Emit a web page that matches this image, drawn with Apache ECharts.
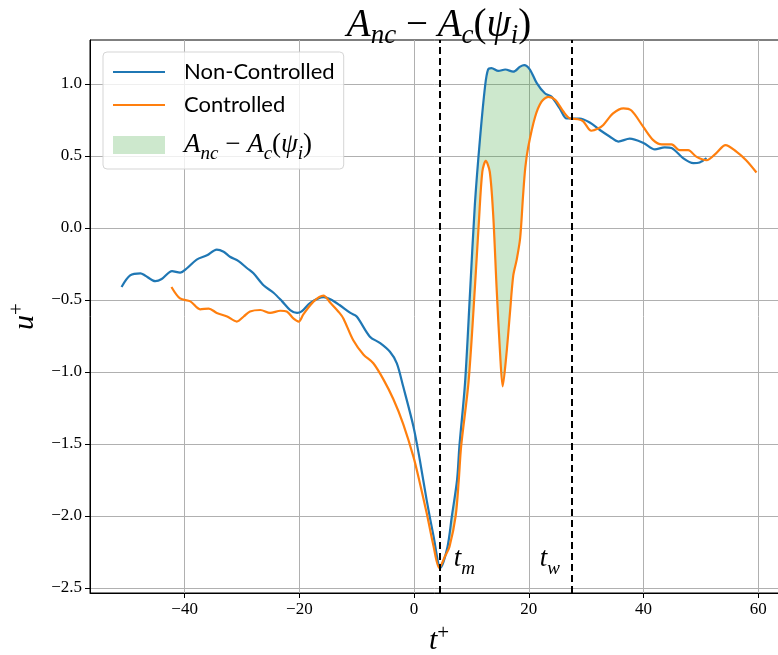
<!DOCTYPE html>
<html><head><meta charset="utf-8">
<script src="https://cdn.jsdelivr.net/npm/echarts@6/dist/echarts.min.js"></script>
<style>html,body{margin:0;padding:0;background:#fff}#c{width:778px;height:655px}</style>
</head><body><div id="c"></div>
<script>
// ---- data ----
const ncT = [-51.0,-49.5,-47.7,-46.9,-45.1,-44.0,-42.2,-40.8,-39.6,-37.9,-36.1,-34.4,-33.2,-32.1,-30.6,-29.1,-28.0,-26.2,-24.5,-23.0,-21.6,-20.4,-19.6,-18.1,-15.8,-14.6,-13.0,-11.1,-10.0,-7.7,-5.9,-4.2,-3.0,-1.9,-0.1,1.0,2.2,3.4,4.6,5.8,6.6,7.5,7.9,8.9,9.8,10.6,11.5,12.4,12.9,13.5,14.7,15.9,17.3,18.5,19.2,20.2,21.4,22.8,24.0,25.4,26.6,27.8,28.9,30.7,32.4,34.1,35.6,37.6,40.0,42.0,43.7,44.9,46.9,48.7,49.8,51.0];
const ncU = [-0.41,-0.33,-0.315,-0.33,-0.37,-0.355,-0.30,-0.31,-0.28,-0.22,-0.19,-0.15,-0.165,-0.20,-0.23,-0.28,-0.315,-0.40,-0.45,-0.51,-0.57,-0.59,-0.58,-0.52,-0.48,-0.495,-0.535,-0.59,-0.615,-0.755,-0.80,-0.86,-0.94,-1.10,-1.38,-1.61,-1.89,-2.14,-2.36,-2.22,-2.0,-1.75,-1.52,-1.07,-0.42,0.16,0.62,0.99,1.10,1.11,1.09,1.10,1.085,1.12,1.13,1.10,1.005,0.935,0.91,0.83,0.76,0.76,0.76,0.73,0.68,0.635,0.60,0.62,0.59,0.545,0.56,0.555,0.485,0.45,0.455,0.485];
const cT = [-42.3,-40.8,-39.0,-37.3,-35.8,-34.4,-32.6,-30.9,-29.7,-28.6,-26.8,-25.1,-23.3,-22.2,-21.0,-20.1,-19.3,-17.5,-15.8,-14.6,-13.0,-12.3,-10.6,-8.8,-7.1,-5.3,-3.6,-1.9,-0.1,1.0,2.2,3.4,4.4,5.4,6.2,7.26,7.8,8.2,9.5,10.6,11.3,11.9,12.5,13.2,13.8,14.4,15.0,15.45,16.1,16.7,17.3,17.9,18.5,19.0,19.4,19.9,21.1,22.2,23.4,24.6,26.0,27.2,28.6,29.5,30.9,32.1,33.0,34.7,36.5,37.9,40.0,41.7,43.2,44.9,46.3,47.8,49.2,51.0,52.7,54.3,56.2,57.9,59.7];
const cU = [-0.41,-0.49,-0.51,-0.565,-0.56,-0.59,-0.615,-0.65,-0.615,-0.58,-0.57,-0.59,-0.575,-0.58,-0.63,-0.65,-0.60,-0.51,-0.47,-0.52,-0.59,-0.63,-0.78,-0.88,-0.94,-1.055,-1.19,-1.36,-1.59,-1.77,-1.98,-2.21,-2.36,-2.28,-2.21,-2.0,-1.75,-1.52,-1.07,-0.42,0.04,0.39,0.465,0.39,0.09,-0.42,-0.87,-1.10,-0.88,-0.60,-0.33,-0.22,-0.07,0.22,0.42,0.56,0.77,0.875,0.91,0.89,0.81,0.76,0.755,0.74,0.675,0.69,0.715,0.795,0.83,0.815,0.70,0.61,0.58,0.58,0.54,0.54,0.495,0.47,0.52,0.575,0.53,0.47,0.385];
const tm = 4.5, tw = 27.5;
const xTicks = [-40,-20,0,20,40,60];
const yTicks = [-2.5,-2.0,-1.5,-1.0,-0.5,0.0,0.5,1.0];
const seriesNames = ['Non-Controlled','Controlled','fill'];

// ---- style ----
const BLUE='#1f77b4', ORANGE='#ff7f0e', FILL='rgba(44,160,44,0.24)';
const SERIF='"Liberation Serif", "DejaVu Serif", serif';
const MATH = '{i|A}{s|nc}{n| − }{i|A}{s|c}{n|(}{i|ψ}{s|i}{n|)}';
function mathRich(size, L, subLH, supLH){
  const s = Math.round(size*0.7);
  return {
    i:{fontFamily:SERIF,fontStyle:'italic',fontSize:size,lineHeight:L,verticalAlign:'middle',color:'#000'},
    n:{fontFamily:SERIF,fontSize:size,lineHeight:L,verticalAlign:'middle',color:'#000'},
    s:{fontFamily:SERIF,fontStyle:'italic',fontSize:s,lineHeight:subLH,verticalAlign:'bottom',color:'#000'},
    sup:{fontFamily:SERIF,fontSize:s,lineHeight:supLH,verticalAlign:'top',color:'#000'}
  };
}
const minus = v => String(v).replace('-', '\u2212');

const chart = echarts.init(document.getElementById('c'), null, {renderer:'canvas'});
const nc = ncT.map((t,i)=>[t,ncU[i]]);
const c = cT.map((t,i)=>[t,cU[i]]);

chart.setOption({
  animation:false,
  backgroundColor:'#fff',
  grid:{left:90, top:40, right:-10, bottom:62, outerBoundsMode:'none', containLabel:false,
        show:true, borderColor:'#000', borderWidth:1, backgroundColor:'transparent'},
  xAxis:{
    type:'value', min:-56.5, max:65.2, splitNumber:6,
    name:'{i|t}{sup|+}', nameLocation:'middle', nameGap:21,
    nameTextStyle:{rich:mathRich(30,36,24,12)},
    axisLine:{show:true,onZero:false,lineStyle:{color:'#000',width:1}},
    axisTick:{show:true,length:5,lineStyle:{color:'#000'},customValues:xTicks},
    axisLabel:{show:true,margin:8,fontFamily:SERIF,fontSize:17,color:'#000',
      customValues:xTicks,
      formatter:v=>minus(Math.round(v))},
    splitLine:{show:true,lineStyle:{color:'#b0b0b0',width:1}}
  },
  yAxis:{
    type:'value', min:-2.535, max:1.305, splitNumber:8,
    name:'{i|u}{sup|+}', nameLocation:'middle', nameGap:36, nameRotate:90,
    nameTextStyle:{rich:mathRich(30,36,24,12)},
    axisLine:{show:true,onZero:false,lineStyle:{color:'#000',width:1}},
    axisTick:{show:true,length:5,lineStyle:{color:'#000'},customValues:yTicks},
    axisLabel:{show:true,margin:8,fontFamily:SERIF,fontSize:17,color:'#000',
      customValues:yTicks,
      formatter:v=>minus(Number(v).toFixed(1))},
    splitLine:{show:true,lineStyle:{color:'#b0b0b0',width:1}}
  },
  legend:{
    orient:'vertical', left:103, top:52,
    data:[{name:seriesNames[0],itemStyle:{opacity:0}},{name:seriesNames[1],itemStyle:{opacity:0}},{name:seriesNames[2],icon:'rect'}],
    itemWidth:52, itemHeight:18, itemGap:11,
    padding:[9,9,6,9],
    backgroundColor:'rgba(255,255,255,0.8)', borderColor:'#d5d5d5', borderWidth:1, borderRadius:4,
    textStyle:{fontFamily:'Lato', fontSize:22, lineHeight:18, color:'#000', padding:[0,0,0,14], rich:mathRich(27,36,12,12)},
    formatter:n => n==='fill' ? MATH : n
  },
  series:[
    {type:'custom', name:seriesNames[2], coordinateSystem:'cartesian2d', z:1, silent:true,
     itemStyle:{color:FILL},
     data:[[tm,0]], encode:{x:0,y:1},
     renderItem:(params, api) => {
       const pts=[];
       for(let i=0;i<ncT.length;i++) if(ncT[i]>=tm && ncT[i]<=tw) pts.push(api.coord([ncT[i],ncU[i]]));
       for(let i=cT.length-1;i>=0;i--) if(cT[i]>=tm && cT[i]<=tw) pts.push(api.coord([cT[i],cU[i]]));
       return {type:'polygon', shape:{points:pts, smooth:0.25}, style:{fill:FILL}};
     }},
    {type:'line', name:seriesNames[0], data:nc, symbol:'none', smooth:0.3, z:2,
     lineStyle:{color:BLUE,width:2.2}, itemStyle:{color:BLUE}},
    {type:'line', name:seriesNames[1], data:c, symbol:'none', smooth:0.3, z:3,
     lineStyle:{color:ORANGE,width:2.2}, itemStyle:{color:ORANGE},
     markLine:{silent:true, symbol:'none', z:6, label:{show:false},
       lineStyle:{color:'#000',width:2,type:[7,4]},
       data:[{xAxis:tm},{xAxis:tw}]}}
  ]
});

// title and t_m, t_w labels anchored to data coordinates
const pm = chart.convertToPixel({gridIndex:0},[tm,-2.36]);
const pw = chart.convertToPixel({gridIndex:0},[tw,-2.36]);
const pc = chart.convertToPixel({gridIndex:0},[(-56.5+65.2)/2,1.305]);
chart.setOption({graphic:[
  {type:'text', x:pc[0], y:pc[1]-38, z:10, style:{text:MATH, rich:mathRich(39,47,24,24), align:'center'}},
  {type:'text', x:pm[0]+14, y:pm[1]-29, z:10, style:{text:'{i|t}{s|m}', rich:mathRich(27,40,26,26), align:'left'}},
  {type:'text', x:pw[0]-32, y:pw[1]-29, z:10, style:{text:'{i|t}{s|w}', rich:mathRich(27,40,26,26), align:'left'}}
]});
</script>
</body></html>
